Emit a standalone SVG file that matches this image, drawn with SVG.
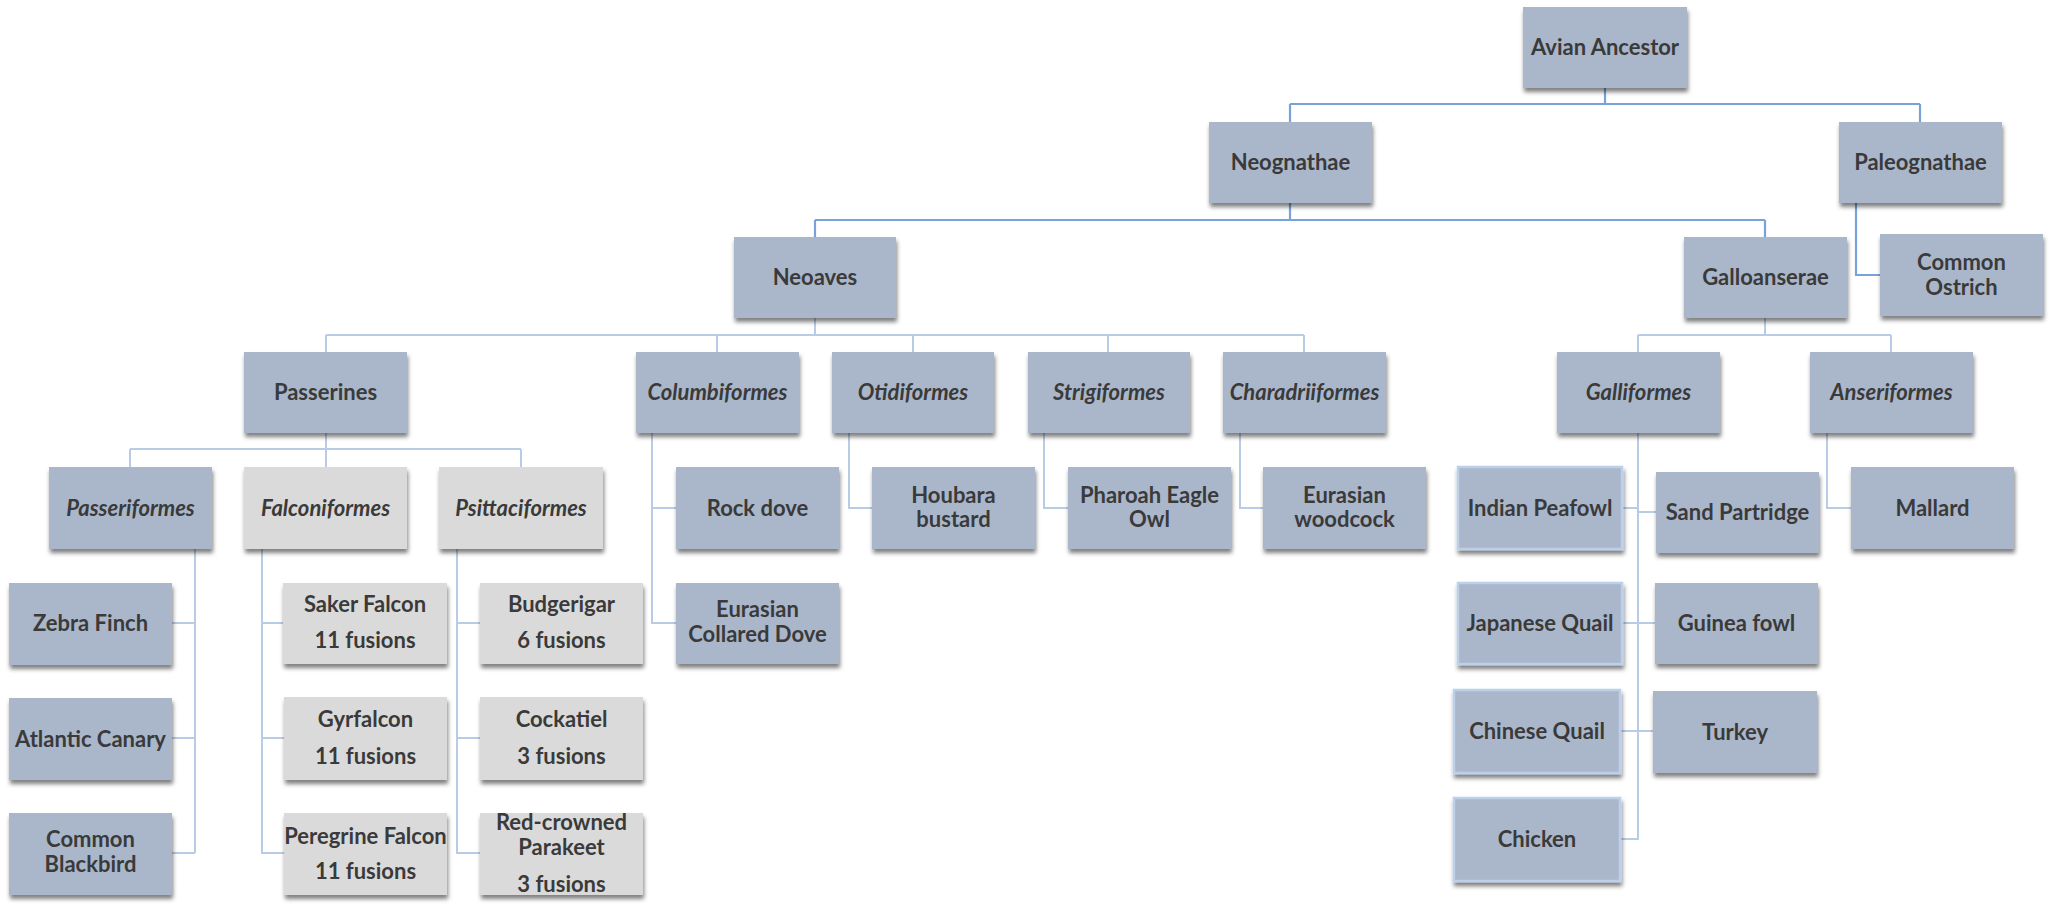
<svg xmlns="http://www.w3.org/2000/svg" width="2053" height="907" viewBox="0 0 2053 907">
<defs>
<filter id="sh" x="-10%" y="-15%" width="125%" height="145%">
<feDropShadow dx="1" dy="4" stdDeviation="2.2" flood-color="#000" flood-opacity="0.5"/>
</filter>
<style>
.b{fill:#aab7cb;filter:url(#sh)}
.g{fill:#dadada;filter:url(#sh)}
.bb{fill:#aab7cb;stroke:#bcd0ec;stroke-width:2.5;filter:url(#sh)}
text{font-family:Lato,"Open Sans","Liberation Sans",sans-serif;font-weight:bold;font-size:22px;fill:#3a3a3a;text-anchor:middle}
.i{font-style:italic}
.c1{fill:none;stroke:#78a2d9;stroke-width:2.2}
.c2{fill:none;stroke:#b9cce6;stroke-width:2}
</style>
</defs>
<rect width="2053" height="907" fill="#ffffff"/>
<g id="connectors">
<path class="c1" d="M1605,88 V104 M1290,104 H1920 M1290,104 V122 M1920,104 V122 M1290,203 V220 M815,220 H1765 M815,220 V237 M1765,220 V237 M1856,202 V275 H1880"/>
<path class="c2" d="M815,318 V335 M326,335 H1304 M326,335 V352 M717,335 V352 M913,335 V352 M1108,335 V352 M1304,335 V352 M1765,318 V335 M1638,335 H1891 M1638,335 V352 M1891,335 V352 M326,433 V449 M130,449 H521 M130,449 V467 M326,449 V467 M521,449 V467 M195,549 V853 M172,623 H195 M172,738 H195 M172,853 H195 M262,549 V853 H284 M262,623 H283 M262,738 H284 M457,549 V853 H480 M457,623 H480 M457,738 H480 M652,433 V623 H676 M652,508 H676 M849,433 V508 H872 M1044,433 V508 H1068 M1240,433 V508 H1263 M1638,433 V839 H1620 M1622,508 H1638 M1638,512 H1656 M1622,623 H1655 M1620,731 H1653 M1827,433 V508 H1851"/>
</g>
<g id="avian-ancestor"><rect class="b" x="1523" y="7" width="164" height="81"/><text x="1605" y="55">Avian Ancestor</text></g>
<g id="neognathae"><rect class="b" x="1209" y="122" width="163" height="81"/><text x="1290.5" y="170">Neognathae</text></g>
<g id="paleognathae"><rect class="b" x="1839" y="122" width="163" height="81"/><text x="1920.5" y="170">Paleognathae</text></g>
<g id="neoaves"><rect class="b" x="734" y="237" width="162" height="81"/><text x="815" y="285">Neoaves</text></g>
<g id="galloanserae"><rect class="b" x="1684" y="237" width="163" height="81"/><text x="1765.5" y="285">Galloanserae</text></g>
<g id="common-ostrich"><rect class="b" x="1880" y="234" width="163" height="82"/><text x="1961.5" y="270">Common</text><text x="1961.5" y="295">Ostrich</text></g>
<g id="passerines"><rect class="b" x="244" y="352" width="163" height="81"/><text x="325.5" y="400">Passerines</text></g>
<g id="columbiformes"><rect class="b" x="636" y="352" width="163" height="81"/><text class="i" x="717.5" y="400">Columbiformes</text></g>
<g id="otidiformes"><rect class="b" x="832" y="352" width="162" height="81"/><text class="i" x="913" y="400">Otidiformes</text></g>
<g id="strigiformes"><rect class="b" x="1028" y="352" width="162" height="81"/><text class="i" x="1109" y="400">Strigiformes</text></g>
<g id="charadriiformes"><rect class="b" x="1223" y="352" width="163" height="81"/><text class="i" x="1304.5" y="400">Charadriiformes</text></g>
<g id="galliformes"><rect class="b" x="1557" y="352" width="163" height="81"/><text class="i" x="1638.5" y="400">Galliformes</text></g>
<g id="anseriformes"><rect class="b" x="1810" y="352" width="163" height="81"/><text class="i" x="1891.5" y="400">Anseriformes</text></g>
<g id="passeriformes"><rect class="b" x="49" y="467" width="163" height="82"/><text class="i" x="130.5" y="516">Passeriformes</text></g>
<g id="falconiformes"><rect class="g" x="244" y="467" width="163" height="82"/><text class="i" x="325.5" y="516">Falconiformes</text></g>
<g id="psittaciformes"><rect class="g" x="439" y="467" width="164" height="82"/><text class="i" x="521" y="516">Psittaciformes</text></g>
<g id="rock-dove"><rect class="b" x="676" y="467" width="163" height="82"/><text x="757.5" y="516">Rock dove</text></g>
<g id="houbara-bustard"><rect class="b" x="872" y="467" width="163" height="82"/><text x="953.5" y="503">Houbara</text><text x="953.5" y="527">bustard</text></g>
<g id="pharoah-eagle-owl"><rect class="b" x="1068" y="467" width="163" height="82"/><text x="1149.5" y="503">Pharoah Eagle</text><text x="1149.5" y="527">Owl</text></g>
<g id="eurasian-woodcock"><rect class="b" x="1263" y="467" width="163" height="82"/><text x="1344.5" y="503">Eurasian</text><text x="1344.5" y="527">woodcock</text></g>
<g id="indian-peafowl"><rect class="bb" x="1458" y="467" width="164" height="82"/><text x="1540" y="516">Indian Peafowl</text></g>
<g id="sand-partridge"><rect class="b" x="1656" y="472" width="163" height="81"/><text x="1737.5" y="520">Sand Partridge</text></g>
<g id="mallard"><rect class="b" x="1851" y="467" width="163" height="82"/><text x="1932.5" y="516">Mallard</text></g>
<g id="zebra-finch"><rect class="b" x="9" y="583" width="163" height="82"/><text x="90.5" y="631">Zebra Finch</text></g>
<g id="saker-falcon"><rect class="g" x="283" y="583" width="164" height="81"/><text x="365" y="612">Saker Falcon</text><text x="365" y="648">11 fusions</text></g>
<g id="budgerigar"><rect class="g" x="480" y="583" width="163" height="81"/><text x="561.5" y="612">Budgerigar</text><text x="561.5" y="648">6 fusions</text></g>
<g id="eurasian-collared-dove"><rect class="b" x="676" y="583" width="163" height="81"/><text x="757.5" y="617">Eurasian</text><text x="757.5" y="642">Collared Dove</text></g>
<g id="japanese-quail"><rect class="bb" x="1458" y="583" width="164" height="81"/><text x="1540" y="631">Japanese Quail</text></g>
<g id="guinea-fowl"><rect class="b" x="1655" y="583" width="163" height="81"/><text x="1736.5" y="631">Guinea fowl</text></g>
<g id="atlantic-canary"><rect class="b" x="9" y="698" width="163" height="82"/><text x="90.5" y="747">Atlantic Canary</text></g>
<g id="gyrfalcon"><rect class="g" x="284" y="697" width="163" height="83"/><text x="365.5" y="727">Gyrfalcon</text><text x="365.5" y="764">11 fusions</text></g>
<g id="cockatiel"><rect class="g" x="480" y="697" width="163" height="83"/><text x="561.5" y="727">Cockatiel</text><text x="561.5" y="764">3 fusions</text></g>
<g id="chinese-quail"><rect class="bb" x="1454" y="690" width="166" height="83"/><text x="1537" y="739">Chinese Quail</text></g>
<g id="turkey"><rect class="b" x="1653" y="691" width="164" height="82"/><text x="1735" y="740">Turkey</text></g>
<g id="common-blackbird"><rect class="b" x="9" y="813" width="163" height="82"/><text x="90.5" y="847">Common</text><text x="90.5" y="872">Blackbird</text></g>
<g id="peregrine-falcon"><rect class="g" x="284" y="813" width="163" height="82"/><text x="365.5" y="844">Peregrine Falcon</text><text x="365.5" y="879">11 fusions</text></g>
<g id="red-crowned-parakeet"><rect class="g" x="480" y="813" width="163" height="82"/><text x="561.5" y="830">Red-crowned</text><text x="561.5" y="855">Parakeet</text><text x="561.5" y="892">3 fusions</text></g>
<g id="chicken"><rect class="bb" x="1454" y="798" width="166" height="83"/><text x="1537" y="847">Chicken</text></g>
</svg>
